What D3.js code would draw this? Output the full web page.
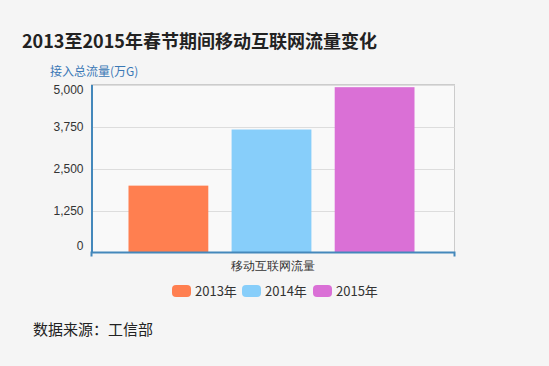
<!DOCTYPE html>
<html><head><meta charset="utf-8">
<script src="https://cdn.jsdelivr.net/npm/d3@7"></script>
<style>
html,body{margin:0;padding:0;background:#f5f5f5;}
svg{display:block;font-family:"Noto Sans CJK SC","Noto Sans",sans-serif;}
</style></head><body>
<script>
const categories = ["移动互联网流量"];
const seriesNames = ["2013年", "2014年", "2015年"];
const seriesValues = [1990, 3660, 4920];
const colors = ["#ff7f50", "#87cefa", "#da70d6"];
const yTicks = [0, 1250, 2500, 3750, 5000];
const title = "2013至2015年春节期间移动互联网流量变化";
const yName = "接入总流量(万G)";
const source = "数据来源：工信部";

const W = 549, H = 366;
const svg = d3.select("body").append("svg").attr("width", W).attr("height", H);
svg.append("rect").attr("width", W).attr("height", H).attr("fill", "#f5f5f5");

const plot = {l: 91.5, r: 454.5, t: 84.5, b: 252.5};

svg.append("rect").attr("x", plot.l).attr("y", plot.t)
  .attr("width", plot.r - plot.l).attr("height", plot.b - plot.t)
  .attr("fill", "#f9f9f9").attr("stroke", "#ccc").attr("stroke-width", 1);

const y = d3.scaleLinear().domain([0, 5000]).range([plot.b, plot.t]);
const x0 = d3.scaleBand().domain(categories).range([plot.l, plot.r]).padding(0);
const x1 = d3.scaleBand().domain(seriesNames)
  .range([x0(categories[0]) + 37, x0(categories[0]) + x0.bandwidth() - 40])
  .paddingInner(0.226).paddingOuter(0);

// grid
svg.append("g").selectAll("line").data(yTicks.filter(d => d > 0)).join("line")
  .attr("x1", plot.l).attr("x2", plot.r)
  .attr("y1", d => Math.round(y(d)) + 0.5).attr("y2", d => Math.round(y(d)) + 0.5)
  .attr("stroke", "#ddd");

// bars
svg.append("g").selectAll("rect").data(seriesValues).join("rect")
  .attr("x", (d, i) => x1(seriesNames[i]))
  .attr("width", x1.bandwidth())
  .attr("y", d => y(d))
  .attr("height", d => plot.b - y(d))
  .attr("fill", (d, i) => colors[i]);

// y axis
const yAxis = d3.axisLeft(y).tickValues(yTicks).tickSize(0).tickPadding(8)
  .tickFormat(d3.format(","));
const gy = svg.append("g").attr("transform", `translate(${plot.l},0)`).call(yAxis);
gy.select(".domain").attr("stroke", "#4488bb").attr("stroke-width", 2);
gy.selectAll("text").attr("fill", "#333").attr("font-size", 12)
  .attr("font-family", "Arial, 'Liberation Sans', sans-serif")
  .attr("transform", d => d === 0 ? "translate(0,-7)" : d === 5000 ? "translate(0,5)" : null);

// x axis
const xAxis = d3.axisBottom(x0).tickSize(0).tickPadding(8);
const gx = svg.append("g").attr("transform", `translate(0,${plot.b})`).call(xAxis);
gx.select(".domain").attr("stroke", "#4488bb").attr("stroke-width", 2)
  .attr("d", `M${plot.l},4V0H${plot.r}V4`);
gx.selectAll("text").attr("fill", "#333").attr("font-size", 12).attr("dy", "0.75em");

// titles
svg.append("text").attr("x", 22).attr("y", 48).text(title)
  .attr("font-size", 18).attr("font-weight", "bold").attr("fill", "#222");
svg.append("text").attr("x", 50).attr("y", 76).text(yName)
  .attr("font-size", 12).attr("fill", "#3a78b5");
svg.append("text").attr("x", 33).attr("y", 335).text(source)
  .attr("font-size", 15).attr("fill", "#222");

// legend
const legX = [172, 242, 313];
const leg = svg.append("g").selectAll("g").data(seriesNames).join("g")
  .attr("transform", (d, i) => `translate(${legX[i]},285)`);
leg.append("rect").attr("width", 19).attr("height", 12).attr("rx", 4)
  .attr("fill", (d, i) => colors[i]);
leg.append("text").attr("x", 23).attr("y", 11).text(d => d)
  .attr("font-size", 13).attr("fill", "#333");
</script>
</body></html>
